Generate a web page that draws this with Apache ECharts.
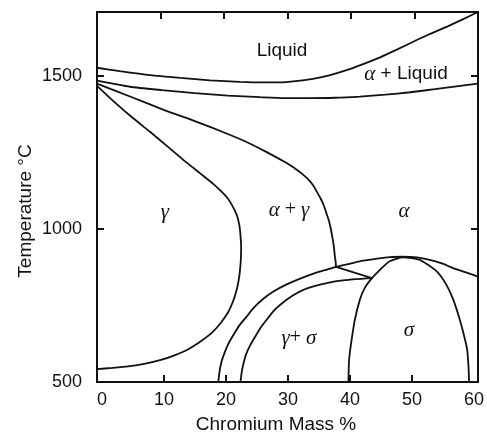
<!DOCTYPE html>
<html>
<head>
<meta charset="utf-8">
<script src="https://cdn.jsdelivr.net/npm/echarts@6/dist/echarts.min.js"></script>
<style>
  html, body { margin: 0; padding: 0; background: #fff; }
  #main { width: 487px; height: 436px; }
</style>
</head>
<body>
<div id="main"></div>
<script>
// tick labels
const xTicks = [0, 10, 20, 30, 40, 50, 60];
const yTicks = [500, 1000, 1500];

// phase boundaries, [Cr mass %, temperature °C]
const liquidus = [[0,1526],[3.6,1515],[8.4,1502],[13.1,1493],[17.8,1485],[22.5,1480],[26.1,1478],[28.8,1478],[31.3,1482],[34.0,1490],[36.7,1502],[39.3,1518],[41.9,1538],[44.6,1560],[47.2,1585],[49.8,1611],[52.4,1636],[55.1,1660],[57.5,1683],[60,1708]];
const solidus = [[0,1484],[5.2,1464],[10.2,1453],[15.4,1443],[20.6,1435],[25.7,1430],[29.6,1427],[33.5,1427],[37.5,1428],[41.4,1432],[45.4,1438],[49.3,1446],[53.2,1456],[56.9,1466],[60,1474]];
// gamma / alpha+gamma
const gammaLine = [[0,1467],[2.8,1413],[5.7,1361],[8.4,1316],[11.0,1271],[13.5,1227],[16.2,1182],[18.3,1147],[19.7,1120],[20.6,1099],[21.3,1076],[22.0,1046],[22.4,1014],[22.6,978],[22.7,938],[22.65,899],[22.5,861],[22.3,831],[22.0,801],[21.4,762],[20.6,726],[19.45,692],[18.1,661],[16.3,632],[14.3,606],[12.3,588],[10.2,573],[7.6,560],[4.9,551],[2.4,546],[0,542]];
// alpha+gamma / alpha
const alphaLine = [[0,1474],[5.2,1432],[10.7,1387],[15.4,1352],[20.2,1313],[23.3,1286],[26.5,1253],[29.6,1218],[30.55,1206],[31.45,1193],[32.4,1178],[33.3,1161],[34.0,1143],[34.6,1122],[35.2,1100],[35.7,1077],[36.1,1053],[36.5,1028],[36.8,1002],[37.05,974],[37.3,943],[37.45,912],[37.58,893],[37.64,876]];
// outer arc up to the sigma top and on to the right border
const outerArc = [[19.1,500],[19.3,534],[19.6,566],[20.1,596],[20.7,625],[21.5,654],[22.4,684],[23.5,712],[24.7,743],[26.2,772],[27.9,797],[29.8,818],[31.8,836],[34.1,854],[35.9,865],[37.64,876],[39.8,886],[41.9,896],[44.1,903],[46.1,908],[48.2,909],[50.4,907],[52.4,899],[54.3,887],[56.1,872],[58.1,858],[60,844]];
const innerArc = [[22.6,500],[22.8,534],[23.1,563],[23.5,592],[24.1,619],[25.0,651],[25.9,681],[26.9,708],[28.0,736],[29.45,762],[30.9,783],[32.4,800],[34.1,812],[36.2,823],[38.3,831],[39.8,834],[41.6,837],[43.3,839]];
const tieLine = [[37.64,876],[43.3,839]];
const sigmaDome = [[39.6,500],[39.7,573],[40.1,638],[40.6,703],[41.4,769],[42.2,808],[43.3,839],[44.6,867],[46.1,894],[48.2,907],[50.9,898],[53.5,861],[55.0,818],[56.1,769],[57.0,713],[57.7,660],[58.3,605],[58.5,551],[58.6,500]];

const curves = [liquidus, solidus, gammaLine, alphaLine, outerArc, innerArc, sigmaDome];

const SANS = '"Liberation Sans", Arial, sans-serif';
const SERIF = '"Liberation Serif", "Times New Roman", serif';

const myChart = echarts.init(document.getElementById('main'));

const greek = { fontFamily: SERIF, fontStyle: 'italic', fontSize: 21, fill: '#111' };
const plain = { fontFamily: SERIF, fontSize: 20, fill: '#111' };
const sans = { fontFamily: SANS, fontSize: 19, fill: '#111' };

function label(x, y, text, rotation) {
  return {
    type: 'text',
    x: x, y: y,
    rotation: rotation || 0,
    style: {
      text: text,
      align: 'center',
      verticalAlign: 'middle',
      fontFamily: SANS,
      fontSize: 19,
      fill: '#111',
      rich: { g: greek, p: plain, s: sans }
    },
    z: 10
  };
}

// inner ticks only, the frame is drawn by the grid
function tick(values) {
  return { inside: true, length: 7, lineStyle: { color: '#111', width: 2 }, customValues: values };
}

myChart.setOption({
  animation: false,
  backgroundColor: '#fff',
  grid: [
    { left: 97, right: 9, top: 12, bottom: 54, show: true, borderColor: '#111', borderWidth: 2 },
    { left: 102, right: 13, top: 12, bottom: 54 }
  ],
  xAxis: [
    { gridIndex: 0, type: 'value', min: 0, max: 60, show: false },
    {
      gridIndex: 0, type: 'value', position: 'top', min: 0, max: 60, interval: 10,
      axisLine: { show: false, onZero: false },
      axisTick: tick([10, 20, 30, 40, 50]),
      axisLabel: { show: false },
      splitLine: { show: false }
    },
    {
      gridIndex: 1, type: 'value', position: 'bottom', min: 0, max: 60, interval: 10,
      axisLine: { show: false, onZero: false },
      axisTick: tick([10, 20, 30, 40, 50]),
      axisLabel: { margin: 9, fontFamily: SANS, fontSize: 18, color: '#111', customValues: xTicks },
      splitLine: { show: false }
    }
  ],
  yAxis: [
    {
      gridIndex: 0, type: 'value', position: 'left', min: 500, max: 1708, interval: 500,
      axisLine: { show: false, onZero: false },
      axisTick: tick([1000, 1500]),
      axisLabel: {
        margin: 15, fontFamily: SANS, fontSize: 18, color: '#111', customValues: yTicks,
        formatter: function (v) { return String(v); }
      },
      splitLine: { show: false }
    },
    {
      gridIndex: 0, type: 'value', position: 'right', min: 500, max: 1708, interval: 500,
      axisLine: { show: false, onZero: false },
      axisTick: tick([1000, 1500]),
      axisLabel: { show: false },
      splitLine: { show: false }
    },
    { gridIndex: 1, type: 'value', min: 500, max: 1708, show: false }
  ],
  graphic: [
    label(26, 211, 'Temperature °C', Math.PI / 2),
    label(276, 425, 'Chromium Mass %'),
    label(282, 51, 'Liquid'),
    label(406, 74, '{g|α}{s| + Liquid}'),
    label(165, 212, '{g|γ}'),
    label(289, 210, '{g|α}{p| + }{g|γ}'),
    label(404, 211, '{g|α}'),
    label(299, 338, '{g|γ}{p|+ }{g|σ}'),
    label(409, 330, '{g|σ}')
  ],
  series: curves.map(function (c) {
    return {
      type: 'line',
      xAxisIndex: 0,
      yAxisIndex: 0,
      data: c,
      symbol: 'none',
      smooth: 0.2,
      lineStyle: { color: '#111', width: 1.8 }
    };
  }).concat([{
    type: 'line',
    xAxisIndex: 0,
    yAxisIndex: 0,
    data: tieLine,
    symbol: 'none',
    lineStyle: { color: '#111', width: 1.8 }
  }])
});
</script>
</body>
</html>
